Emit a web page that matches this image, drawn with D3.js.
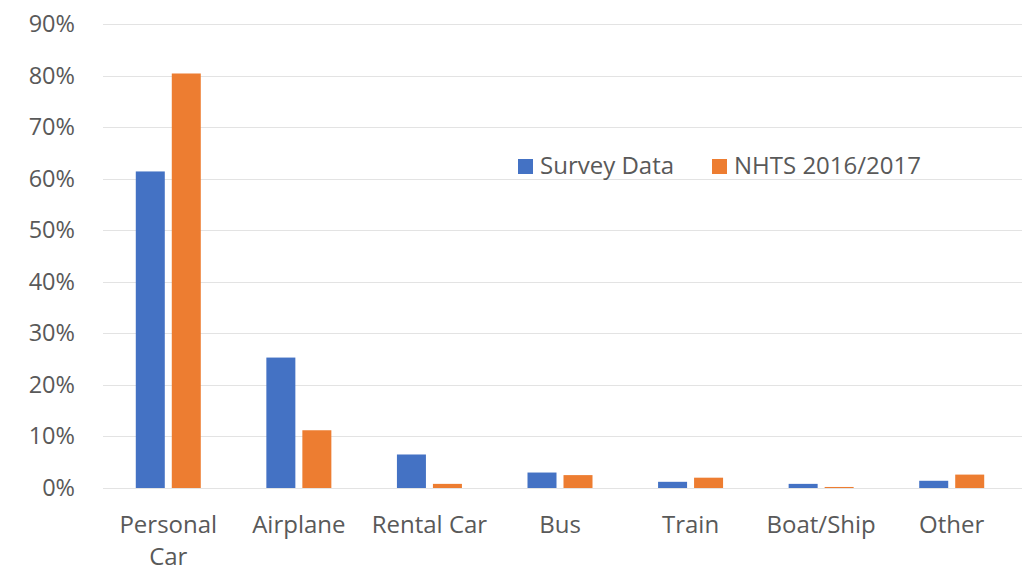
<!DOCTYPE html>
<html>
<head>
<meta charset="utf-8">
<script src="https://cdn.jsdelivr.net/npm/d3@7"></script>
<style>
  html, body { margin: 0; padding: 0; background: #ffffff; }
  svg { display: block; }
  text { font-family: "Open Sans", "Noto Sans", sans-serif; fill: #595959; }
</style>
</head>
<body>
<svg id="chart" width="1029" height="571"></svg>
<script>
const categories = ["Personal Car", "Airplane", "Rental Car", "Bus", "Train", "Boat/Ship", "Other"];
const seriesNames = ["Survey Data", "NHTS 2016/2017"];
const surveyData = [61.4, 25.3, 6.5, 3.0, 1.2, 0.8, 1.4];
const nhtsData = [80.4, 11.2, 0.8, 2.5, 2.0, 0.2, 2.6];
const yTicks = [0, 10, 20, 30, 40, 50, 60, 70, 80, 90];
const colors = ["#4472C4", "#ED7D31"];

const svg = d3.select("#chart");
const pLeft = 103, pRight = 1017, pTop = 24, pBottom = 488;

const x = d3.scaleBand().domain(categories).range([pLeft, pRight]).paddingInner(0).paddingOuter(0);
const y = d3.scaleLinear().domain([0, 90]).range([pBottom, pTop]);

// gridlines
svg.append("g").selectAll("line").data(yTicks).join("line")
  .attr("x1", pLeft).attr("x2", 1022)
  .attr("y1", d => Math.round(y(d)) + 0.5).attr("y2", d => Math.round(y(d)) + 0.5)
  .attr("stroke", "#E3E3E3").attr("stroke-width", 1);

// y axis labels
const yAxis = d3.axisLeft(y).tickValues(yTicks).tickFormat(d => d + "%").tickSize(0).tickPadding(0);
const gy = svg.append("g").attr("transform", "translate(75,0)").call(yAxis);
gy.select(".domain").remove();
gy.selectAll("text").style("font-size", "23.5px").attr("fill", "#595959")
  .style("font-family", "'Open Sans', 'Noto Sans', sans-serif");

// bars
const barW = 29, gap = 7;
const data = categories.map((c, i) => ({c, vals: [surveyData[i], nhtsData[i]]}));
const groups = svg.append("g").selectAll("g").data(data).join("g")
  .attr("transform", d => `translate(${x(d.c) + x.bandwidth() / 2},0)`);
groups.selectAll("rect").data(d => d.vals.map((v, j) => ({v, j}))).join("rect")
  .attr("x", d => d.j === 0 ? -(barW + gap / 2) : gap / 2)
  .attr("width", barW)
  .attr("y", d => y(d.v))
  .attr("height", d => pBottom - y(d.v))
  .attr("fill", d => colors[d.j]);

// x labels
const xl = svg.append("g");
data.forEach(d => {
  const cx = x(d.c) + x.bandwidth() / 2;
  const lines = d.c === "Personal Car" ? ["Personal", "Car"] : [d.c];
  lines.forEach((t, k) => {
    xl.append("text").attr("x", cx).attr("y", 533 + k * 32)
      .attr("text-anchor", "middle").style("font-size", "24px").text(t);
  });
});

// legend
const legend = svg.append("g");
const legendItems = [{x: 518, name: seriesNames[0], c: colors[0]}, {x: 712, name: seriesNames[1], c: colors[1]}];
legendItems.forEach(li => {
  legend.append("rect").attr("x", li.x).attr("y", 159).attr("width", 15).attr("height", 15).attr("fill", li.c);
  legend.append("text").attr("x", li.x + 22).attr("y", 174).style("font-size", "24px").text(li.name);
});
</script>
</body>
</html>
